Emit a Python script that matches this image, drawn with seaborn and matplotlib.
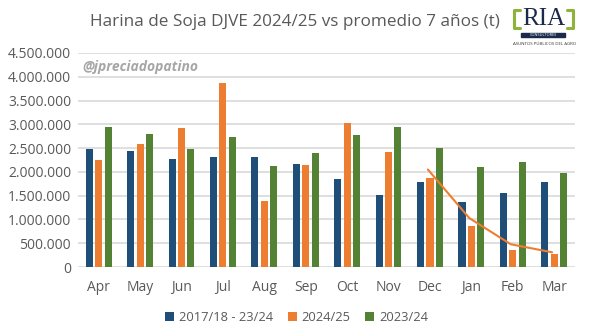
import numpy as np
import pandas as pd
import matplotlib
matplotlib.use("Agg")
import matplotlib.pyplot as plt
import seaborn as sns
from matplotlib.ticker import FuncFormatter
from matplotlib.patches import Rectangle

# data (tonnes)
months = ["Apr", "May", "Jun", "Jul", "Aug", "Sep", "Oct", "Nov", "Dec", "Jan", "Feb", "Mar"]
series_names = ["2017/18 - 23/24", "2024/25", "2023/24"]
avg_7y = [2490000, 2440000, 2270000, 2310000, 2310000, 2165000, 1860000, 1520000, 1790000, 1370000, 1550000, 1790000]
season_2425 = [2260000, 2580000, 2930000, 3875000, 1380000, 2140000, 3020000, 2420000, 1870000, 860000, 350000, 280000]
season_2324 = [2950000, 2800000, 2480000, 2730000, 2120000, 2400000, 2775000, 2950000, 2510000, 2100000, 2210000, 1970000]
trend_months = ["Dec", "Jan", "Feb", "Mar"]
trend_vals = [2050000, 1030000, 480000, 310000]

colors = ["#1F4E79", "#ED7D31", "#548235"]
text_gray = "#595959"

df = pd.DataFrame({
    "month": months * 3,
    "series": [s for s in series_names for _ in months],
    "value": avg_7y + season_2425 + season_2324,
})

sns.set_theme(style="white")
plt.rcParams["font.family"] = ["Open Sans", "DejaVu Sans"]

fig = plt.figure(figsize=(5.89, 3.33), dpi=100)
ax = fig.add_axes([0.1324, 0.198, 0.8436, 0.643])

sns.barplot(data=df, x="month", y="value", hue="series", order=months,
            hue_order=series_names, palette=colors, width=0.68, gap=0.24,
            saturation=1, linewidth=0, ax=ax, legend=True)

ax.plot([months.index(m) - 0.05 for m in trend_months], trend_vals,
        color="#ED7D31", lw=1.5, zorder=5)

ax.set_xlim(-0.5, len(months) - 0.5)
ax.set_ylim(0, 4500000)
ax.set_yticks(np.arange(0, 4500001, 500000))
ax.yaxis.set_major_formatter(FuncFormatter(lambda v, p: f"{int(v):,}".replace(",", ".")))
ax.grid(axis="y", color="#D9D9D9", lw=1.2)
ax.set_axisbelow(True)
for s in ax.spines.values():
    s.set_visible(False)
ax.tick_params(axis="both", length=0, colors=text_gray, labelsize=10)
ax.tick_params(axis="x", pad=9)
ax.tick_params(axis="y", pad=5)
ax.set_xlabel("")
ax.set_ylabel("")

leg = ax.legend(loc="upper center", bbox_to_anchor=(0.44, -0.15), ncol=3,
                frameon=False, fontsize=9.3, handlelength=0.7, handleheight=0.7,
                columnspacing=1.1, handletextpad=0.4)
for t in leg.get_texts():
    t.set_color(text_gray)

ax.text(0.008, 0.935, "@jpreciadopatino", transform=ax.transAxes, fontsize=10,
        fontweight="bold", fontstyle="italic", color="#A6A6A6", va="center")

fig.text(0.50, 0.935, "Harina de Soja DJVE 2024/25 vs promedio 7 años (t)",
         ha="center", va="center", fontsize=12.3, color=text_gray)

# RIA logo
fig.text(0.9235, 0.943, "RIA", ha="center", va="center", fontsize=18,
         family="Liberation Serif", color="#1B2A4A")
fig.patches.append(Rectangle((0.885, 0.889), 0.075, 0.013, transform=fig.transFigure,
                             color="#1B2A4A", figure=fig))
fig.text(0.9225, 0.8955, "CONSULTORES", ha="center", va="center", fontsize=2.8,
         color="white")
fig.text(0.925, 0.869, "ASUNTOS PÚBLICOS DEL AGRO", ha="center", va="center",
         fontsize=3.2, color="#333333")
for x0, d in [(0.8727, 1), (0.9728, -1)]:
    fig.lines.append(plt.Line2D([x0 + 0.01 * d, x0, x0, x0 + 0.01 * d],
                                [0.970, 0.970, 0.916, 0.916], transform=fig.transFigure,
                                color="#8DB33B", lw=2.2))

fig.savefig("out.png", dpi=100)
